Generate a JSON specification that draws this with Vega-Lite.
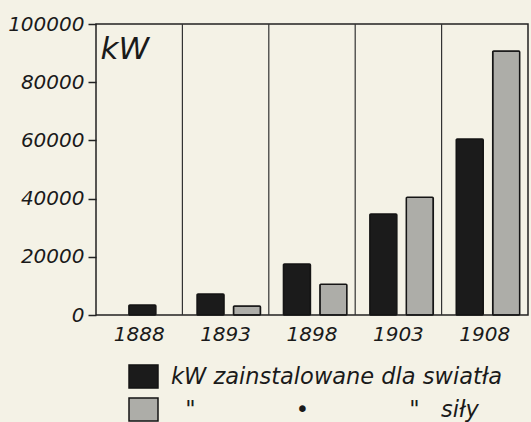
{
  "$schema": "https://vega.github.io/schema/vega-lite/v6.json",
  "width": 432,
  "height": 291,
  "autosize": {"type": "none"},
  "padding": {"left": 96, "top": 24, "right": 3, "bottom": 107},
  "background": "#f4f2e6",
  "config": {
    "view": {"stroke": "#222222", "strokeWidth": 1.5},
    "font": "DejaVu Sans",
    "axis": {"labelFont": "DejaVu Sans", "labelFontStyle": "italic", "labelColor": "#1a1a1a", "titleFont": "DejaVu Sans"},
    "legend": {"labelFont": "DejaVu Sans"}
  },
  "data": {
    "values": [
      {"year": "1888", "series": "light", "kw": 3400},
      {"year": "1893", "series": "light", "kw": 7200},
      {"year": "1893", "series": "power", "kw": 3100},
      {"year": "1898", "series": "light", "kw": 17500},
      {"year": "1898", "series": "power", "kw": 10600},
      {"year": "1903", "series": "light", "kw": 34700},
      {"year": "1903", "series": "power", "kw": 40500},
      {"year": "1908", "series": "light", "kw": 60500},
      {"year": "1908", "series": "power", "kw": 90700}
    ]
  },
  "transform": [{"calculate": "datum.year == '1888' ? 'mid' : datum.series", "as": "slot"}],
  "layer": [
    {
      "mark": {"type": "bar", "width": 27, "stroke": "#151515", "strokeWidth": 1.5, "cornerRadius": 1},
      "encoding": {
        "x": {
          "field": "year", "type": "ordinal",
          "scale": {"paddingInner": 0, "paddingOuter": 0},
          "axis": {"title": null, "labelAngle": 0, "ticks": false, "domain": false, "labelPadding": 9, "labelFontSize": 20}
        },
        "xOffset": {"field": "slot", "scale": {"domain": ["light", "mid", "power"], "paddingInner": 0, "paddingOuter": 0.87, "align": 0.6}},
        "y": {
          "field": "kw", "type": "quantitative",
          "scale": {"domain": [0, 100000], "nice": false},
          "axis": {
            "title": "kW", "values": [0, 20000, 40000, 60000, 80000, 100000], "format": "d",
            "tickSize": 8, "tickColor": "#222222", "tickWidth": 1.5, "labelPadding": 4, "labelFontSize": 20,
            "domain": false, "grid": false,
            "titleAngle": 0, "titleX": 4, "titleY": 10, "titleBaseline": "top", "titleAlign": "left",
            "titleFontSize": 31, "titleFontStyle": "italic", "titleFontWeight": "normal", "titleColor": "#1a1a1a"
          }
        },
        "color": {
          "field": "series", "type": "nominal",
          "scale": {"domain": ["light", "power"], "range": ["#1b1b1b", "#adadA8"]},
          "legend": {
            "orient": "none", "legendX": 32, "legendY": 337, "title": null,
            "symbolType": "M-1,-0.8H1V0.8H-1Z", "symbolSize": 841,
            "symbolStrokeColor": "#151515", "symbolStrokeWidth": 1.5, "symbolOpacity": 1,
            "labelFontSize": 22.5, "labelFontStyle": "italic", "labelColor": "#1a1a1a",
            "labelOffset": 12, "rowPadding": 2, "labelLimit": 450,
            "labelExpr": "datum.value == 'light' ? 'kW zainstalowane dla swiatła' : '\u200b\u00a0\u00a0\"\u00a0\u00a0\u00a0\u00a0\u00a0\u00a0\u00a0\u00a0\u00a0\u00a0\u00a0\u00a0\u00a0\u00a0•\u00a0\u00a0\u00a0\u00a0\u00a0\u00a0\u00a0\u00a0\u00a0\u00a0\u00a0\u00a0\u00a0\u00a0\"\u00a0\u00a0\u00a0siły'"
          }
        }
      }
    },
    {
      "transform": [{"filter": "datum.series == 'light' && datum.year != '1888'"}],
      "mark": {"type": "rule", "color": "#333333", "strokeWidth": 1.2},
      "encoding": {"x": {"field": "year", "type": "ordinal", "bandPosition": 0}}
    }
  ]
}
